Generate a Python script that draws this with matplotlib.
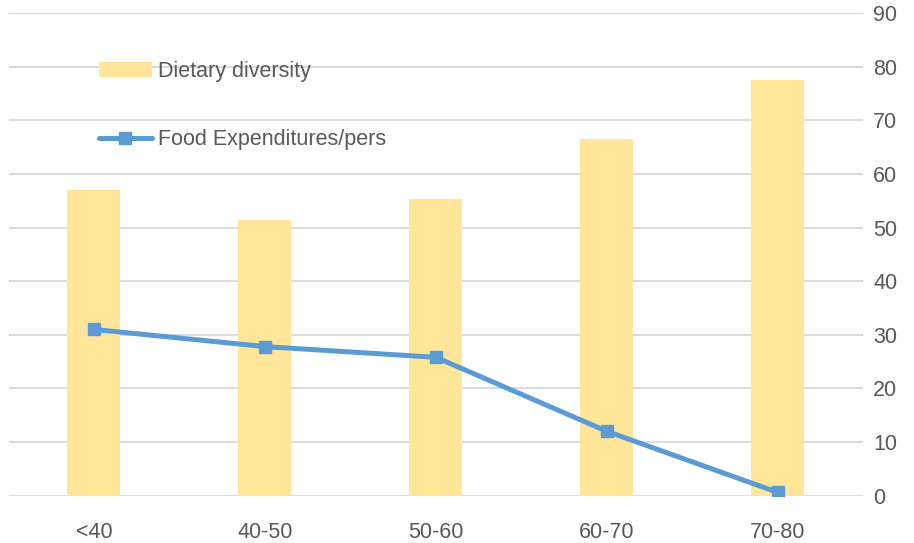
import matplotlib.pyplot as plt
import numpy as np

# age groups and the two series
categories = ['<40', '40-50', '50-60', '60-70', '70-80']
dietary_diversity = [57.0, 51.4, 55.4, 66.6, 77.6]
food_expenditures = [31.0, 27.8, 25.8, 12.0, 0.6]
y_ticks = list(range(0, 100, 10))

text_color = '#595959'
font_size = 15.5
plt.rcParams['font.family'] = ['Liberation Sans', 'DejaVu Sans']

fig = plt.figure(figsize=(9.14, 5.43), dpi=100)
ax = fig.add_axes([0.0093, 0.0871, 0.9354, 0.8889])

x = np.arange(len(categories))
bars = ax.bar(x, dietary_diversity, width=0.31, color='#FFE699',
              label='Dietary diversity', zorder=2)
line, = ax.plot(x, food_expenditures, color='#5B9BD5', linewidth=3.6,
                marker='s', markersize=8.5, label='Food Expenditures/pers',
                solid_capstyle='round', zorder=3)

ax.set_xlim(-0.5, len(categories) - 0.5)
ax.set_ylim(0, 90)
ax.set_xticks(x)
ax.set_xticklabels(categories)
ax.set_yticks(y_ticks)

# value axis sits on the right, grid only, no frame
ax.yaxis.tick_right()
ax.grid(axis='y', color='#D9D9D9', linewidth=1.3, zorder=0)
ax.set_axisbelow(True)
for s in ax.spines.values():
    s.set_visible(False)
ax.tick_params(axis='both', length=0, labelsize=font_size, labelcolor=text_color)
ax.tick_params(axis='y', pad=7)
ax.tick_params(axis='x', pad=19)

ax.legend(handles=[bars, line], loc='upper left', bbox_to_anchor=(0.106, 0.901),
          frameon=False, fontsize=font_size, labelcolor=text_color,
          handlelength=2.45, handletextpad=0.3, labelspacing=2.2,
          borderpad=0, borderaxespad=0)

fig.savefig('out.png', dpi=100)
